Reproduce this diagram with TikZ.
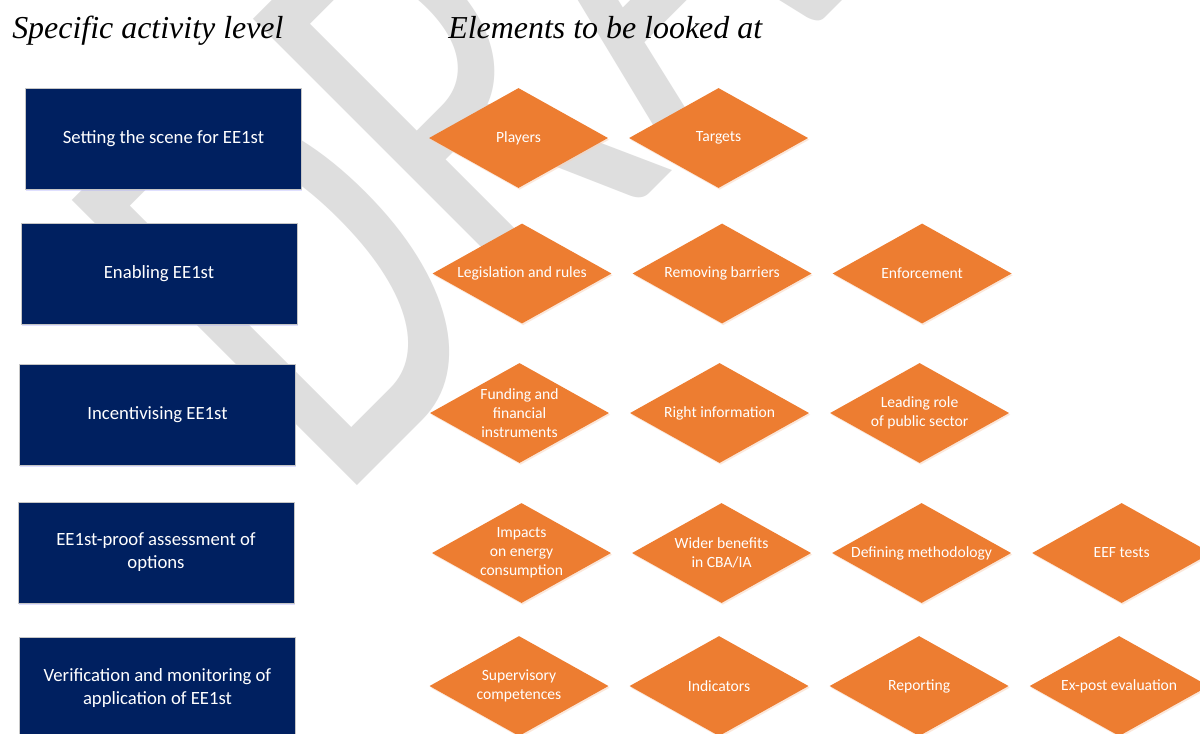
\documentclass[tikz,border=0pt]{standalone}
\usepackage{fontspec}
\setmainfont{Carlito}
\newfontfamily\headfont{Liberation Serif}
\newfontfamily\markfont{Carlito}
\usetikzlibrary{positioning, shapes.geometric, shadows}

\definecolor{levelblue}{RGB}{0,32,96}
\definecolor{elemorange}{RGB}{237,125,49}
\definecolor{markgray}{RGB}{222,222,222}

\tikzset{
  level/.style={rectangle, fill=levelblue, draw=gray!45, line width=0.4pt, text=white,
    minimum width=6.9cm, minimum height=2.525cm, align=center,
    font=\fontsize{13.3}{16.4}\selectfont,
    drop shadow={shadow xshift=0.6pt, shadow yshift=-1.2pt, fill=blue!35!white, opacity=0.35}},
  elem/.style={diamond, fill=elemorange, text=white, inner sep=0pt, shape aspect=1.79,
    minimum width=4.475cm, minimum height=2.5cm, align=center,
    font=\fontsize{11.1}{13.5}\selectfont,
    drop shadow={shadow xshift=0.8pt, shadow yshift=-1.2pt, fill=elemorange!35!white, opacity=0.5}},
  heading/.style={anchor=base west, inner sep=0pt, font=\headfont\itshape\fontsize{22.7}{27}\selectfont},
  draftmark/.style={anchor=base west, inner sep=0pt, text=markgray, transform shape,
    font=\markfont\fontsize{447}{447}\selectfont}
}

\begin{document}
\begin{tikzpicture}[x=0.025cm, y=-0.025cm, node distance=5cm, on grid]
  \useasboundingbox (0,0) rectangle (1200,733);
  \clip (0,0) rectangle (1200,733);
  \fill[white] (0,0) rectangle (1200,733);

  % watermark
  \begin{scope}[shift={(337,506)}, rotate=45, xscale=0.66]
    \node[draftmark] (draft) at (0,0) {DRAFT};
  \end{scope}

  \node[heading] (hlevel) at (12,38) {Specific activity level};
  \node[heading] (helem) at (448,38) {Elements to be looked at};

  \node[level] (scene) at (163.5,138.5) {Setting the scene for EE1st};
  \node[level] (enable) at (159,273.5) {Enabling EE1st};
  \node[level] (incent) at (157.5,414.5) {Incentivising EE1st};
  \node[level] (assess) at (156,552.5) {EE1st-proof assessment of\\options};
  \node[level] (verify) at (157.5,688) {Verification and monitoring of\\application of EE1st};

  \node[elem] (players) at (518.5,138) {Players};
  \node[elem] (targets) [right=of players] {Targets};

  \node[elem] (legis) at (522,273.5) {Legislation and rules};
  \node[elem] (barriers) [right=of legis] {Removing barriers};
  \node[elem] (enforce) [right=of barriers] {Enforcement};

  \node[elem] (funding) at (519.5,413) {Funding and\\financial\\instruments};
  \node[elem] (info) [right=of funding] {Right information};
  \node[elem] (public) [right=of info] {Leading role\\of public sector};

  \node[elem] (impacts) at (521.5,553) {Impacts\\on energy\\consumption};
  \node[elem] (benefits) [right=of impacts] {Wider benefits\\in CBA/IA};
  \node[elem] (method) [right=of benefits] {Defining methodology};
  \node[elem] (eeftests) [right=of method] {EEF tests};

  \node[elem] (superv) at (519,686) {Supervisory\\competences};
  \node[elem] (indic) [right=of superv] {Indicators};
  \node[elem] (report) [right=of indic] {Reporting};
  \node[elem] (expost) [right=of report] {Ex-post evaluation};
\end{tikzpicture}
\end{document}
